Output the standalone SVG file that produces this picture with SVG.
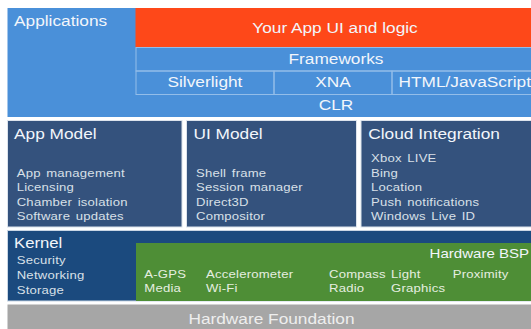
<svg xmlns="http://www.w3.org/2000/svg" width="531" height="329" viewBox="0 0 531 329">
<style>
text{font-family:"Liberation Sans",Arial,sans-serif;transform-box:fill-box;transform-origin:left center;transform:scaleX(1.13)}
.m{text-anchor:middle;transform-origin:center}
.e{text-anchor:end;transform-origin:right center}
.h{font-size:15.3px;fill:#f2f6fb}
.s{font-size:11.6px;fill:#d9e0e8;letter-spacing:0.2px;word-spacing:1.5px}
.g{font-size:11.6px;fill:#e6eee0;letter-spacing:0.2px}
.cell{fill:none;stroke:#93bde9;stroke-width:1}
.nav{fill:#34527d;stroke:#dce3ec;stroke-width:1}
</style>
<rect width="531" height="329" fill="#ffffff"/>
<g id="applications">
<rect x="7.5" y="8" width="524" height="109" fill="#4a90d9"/>
<text class="h" x="14" y="26">Applications</text>
</g>
<g id="your-app">
<rect x="135.5" y="8" width="396" height="39.5" fill="#fe4819"/>
<text class="h m" x="335" y="33.5">Your App UI and logic</text>
</g>
<g id="frameworks">
<rect class="cell" x="136" y="47.5" width="396" height="23.5"/>
<text class="h m" x="336" y="64">Frameworks</text>
</g>
<g id="silverlight">
<rect class="cell" x="136" y="71" width="138" height="23.5"/>
<text class="h m" x="205" y="87.5">Silverlight</text>
</g>
<g id="xna">
<rect class="cell" x="274" y="71" width="118" height="23.5"/>
<text class="h m" x="333" y="87.5">XNA</text>
</g>
<g id="html">
<rect class="cell" x="392" y="71" width="140" height="23.5"/>
<text class="h" x="398.5" y="87.5">HTML/JavaScript</text>
</g>
<g id="clr">
<text class="h m" x="336" y="110">CLR</text>
</g>
<g id="app-model">
<rect class="nav" x="7.5" y="120.5" width="174.5" height="106.5"/>
<text class="h" x="14" y="139">App Model</text>
<text class="s" x="16.7" y="177">App management</text>
<text class="s" x="16.7" y="191.5">Licensing</text>
<text class="s" x="16.7" y="206">Chamber isolation</text>
<text class="s" x="16.7" y="220.5">Software updates</text>
</g>
<g id="ui-model">
<rect class="nav" x="186.5" y="120.5" width="170" height="106.5"/>
<text class="h" x="193.5" y="139">UI Model</text>
<text class="s" x="196" y="177">Shell frame</text>
<text class="s" x="196" y="191.5">Session manager</text>
<text class="s" x="196" y="206">Direct3D</text>
<text class="s" x="196" y="220.5">Compositor</text>
</g>
<g id="cloud">
<rect class="nav" x="361" y="120.5" width="171" height="106.5"/>
<text class="h" x="368.3" y="139">Cloud Integration</text>
<text class="s" x="371" y="162">Xbox LIVE</text>
<text class="s" x="371" y="177">Bing</text>
<text class="s" x="371" y="191.5">Location</text>
<text class="s" x="371" y="206">Push notifications</text>
<text class="s" x="371" y="220.5">Windows Live ID</text>
</g>
<g id="kernel">
<rect x="7.5" y="230.5" width="524" height="70.5" fill="#1b4a7e" stroke="#c9d6e4" stroke-width="1"/>
<text class="h" x="14" y="248.5" style="font-size:14.8px">Kernel</text>
<text class="s" x="16.7" y="264.3">Security</text>
<text class="s" x="16.7" y="279">Networking</text>
<text class="s" x="16.7" y="293.7">Storage</text>
</g>
<g id="hardware-bsp">
<rect x="136" y="243" width="396" height="58" fill="#4e8e36"/>
<text class="h e" x="529" y="258" style="font-size:13.3px">Hardware BSP</text>
<text class="g" x="144.3" y="277.7">A-GPS</text>
<text class="g" x="144.3" y="291.7">Media</text>
<text class="g" x="206" y="277.7">Accelerometer</text>
<text class="g" x="206" y="291.7">Wi-Fi</text>
<text class="g" x="329" y="277.7">Compass</text>
<text class="g" x="329" y="291.7">Radio</text>
<text class="g" x="391" y="277.7">Light</text>
<text class="g" x="391" y="291.7">Graphics</text>
<text class="g" x="452.7" y="277.7">Proximity</text>
</g>
<g id="hardware-foundation">
<rect x="7.5" y="304.5" width="524" height="25" fill="#a6a6a6"/>
<text class="h m" x="271.5" y="324" style="fill:#eeeeee">Hardware Foundation</text>
</g>
<g id="connectors"></g>
</svg>
